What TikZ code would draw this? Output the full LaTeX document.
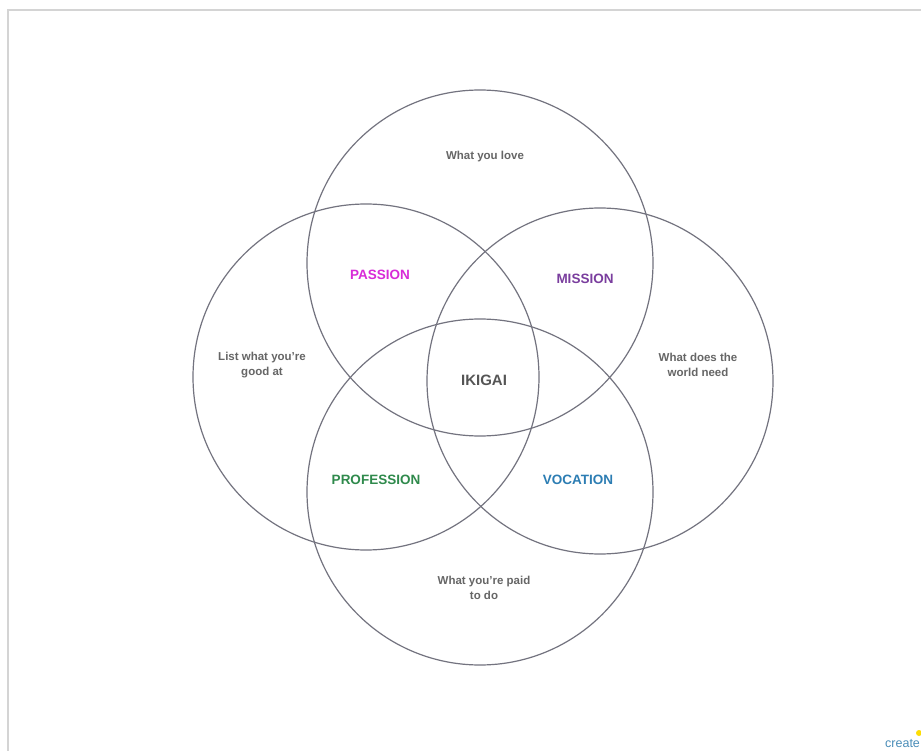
\documentclass[tikz,border=0pt]{standalone}
\usepackage{fontspec}
\setmainfont{Liberation Sans}
\definecolor{ringgray}{HTML}{73737F}
\definecolor{framegray}{HTML}{D4D4D4}
\definecolor{notegray}{HTML}{666666}
\definecolor{passioncol}{HTML}{D82BD8}
\definecolor{missioncol}{HTML}{7A3E9E}
\definecolor{professioncol}{HTML}{2F8A4C}
\definecolor{vocationcol}{HTML}{2C7DB3}
\definecolor{ikigaicol}{HTML}{555555}
\definecolor{logocol}{HTML}{4A8DB8}
\begin{document}
\begin{tikzpicture}[x=1pt,y=-1pt,
  ring/.style={circle, draw=ringgray, line width=1.2pt, minimum size=346pt, inner sep=0pt},
  note/.style={text=notegray, font=\bfseries\fontsize{11.5}{15}\selectfont, align=center, inner sep=0pt},
  tag/.style={font=\bfseries\fontsize{13.5}{16}\selectfont, inner sep=0pt}]
\useasboundingbox (0,0) rectangle (921,751);
\fill[white] (0,0) rectangle (921,751);
\draw[framegray, line width=1.3pt] (8,10) rectangle (940,770);

% the four overlapping circles
\node[ring] (love)  at (480,263) {};
\node[ring] (good)  at (366,377) {};
\node[ring] (world) at (600,381) {};
\node[ring] (paid)  at (480,492) {};

% what each circle stands for
\node[note] (lovetxt)  at (485,157) {What you love};
\node[note] (goodtxt)  at (262,365) {List what you're\\good at};
\node[note] (worldtxt) at (698,365) {What does the\\world need};
\node[note] (paidtxt)  at (484,588) {What you're paid\\to do};

% overlaps
\node[tag, text=passioncol]    (passion)    at (380,275) {PASSION};
\node[tag, text=missioncol]    (mission)    at (585,279) {MISSION};
\node[tag, text=professioncol] (profession) at (376,480) {PROFESSION};
\node[tag, text=vocationcol]   (vocation)   at (578,480) {VOCATION};
\node[tag, text=ikigaicol, font=\bfseries\fontsize{15}{18}\selectfont] (ikigai) at (484,380) {IKIGAI};

% corner mark
\fill[yellow!80!orange] (919,733) circle (3pt);
\node[anchor=west, text=logocol, font=\fontsize{12.5}{14}\selectfont, inner sep=0pt] (logo) at (885,744) {create};
\end{tikzpicture}
\end{document}
